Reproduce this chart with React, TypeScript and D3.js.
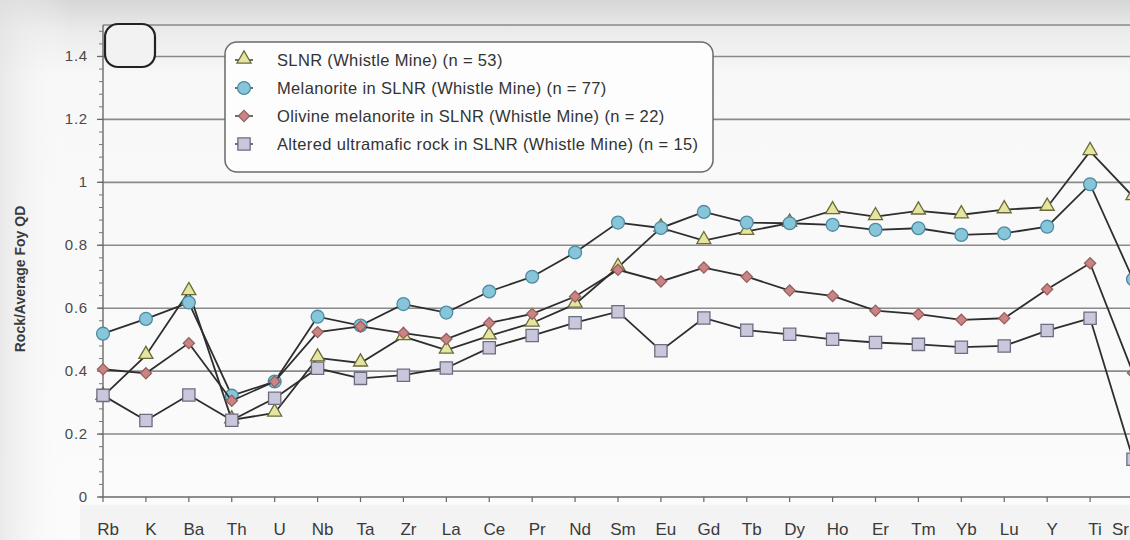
import React from "react";
import * as d3 from "d3";

const elements = ["Rb", "K", "Ba", "Th", "U", "Nb", "Ta", "Zr", "La", "Ce", "Pr", "Nd", "Sm", "Eu", "Gd", "Tb", "Dy", "Ho", "Er", "Tm", "Yb", "Lu", "Y", "Ti", "Sr"];

const slnr = [0.32, 0.45, 0.653, 0.245, 0.267, 0.442, 0.426, 0.51, 0.467, 0.512, 0.553, 0.613, 0.73, 0.855, 0.815, 0.844, 0.87, 0.91, 0.891, 0.909, 0.897, 0.913, 0.921, 1.098, 0.955];
const melanorite = [0.519, 0.566, 0.618, 0.322, 0.367, 0.573, 0.545, 0.613, 0.586, 0.653, 0.70, 0.777, 0.872, 0.855, 0.906, 0.872, 0.87, 0.865, 0.849, 0.854, 0.833, 0.838, 0.859, 0.994, 0.692];
const olivineMelanorite = [0.406, 0.393, 0.489, 0.306, 0.367, 0.524, 0.542, 0.521, 0.502, 0.553, 0.582, 0.637, 0.722, 0.685, 0.729, 0.70, 0.656, 0.639, 0.592, 0.581, 0.563, 0.568, 0.66, 0.743, 0.394];
const alteredUltramafic = [0.323, 0.243, 0.324, 0.244, 0.314, 0.409, 0.377, 0.387, 0.41, 0.474, 0.513, 0.554, 0.589, 0.465, 0.569, 0.53, 0.517, 0.501, 0.491, 0.485, 0.476, 0.48, 0.529, 0.568, 0.12];

const seriesNames = [
  "SLNR (Whistle Mine) (n = 53)",
  "Melanorite in SLNR (Whistle Mine) (n = 77)",
  "Olivine melanorite in SLNR (Whistle Mine) (n = 22)",
  "Altered ultramafic rock in SLNR (Whistle Mine) (n = 15)",
];

const yTicks = [0, 0.2, 0.4, 0.6, 0.8, 1, 1.2, 1.4];
const yTickLabels = ["0", "0.2", "0.4", "0.6", "0.8", "1", "1.2", "1.4"];

type Marker = { shape: "triangle" | "circle" | "diamond" | "square"; fill: string; stroke: string };

const markers: Marker[] = [
  { shape: "triangle", fill: "#e4e6a0", stroke: "#6c6a3a" },
  { shape: "circle", fill: "#86c6d8", stroke: "#4d8aa3" },
  { shape: "diamond", fill: "#c98483", stroke: "#95605f" },
  { shape: "square", fill: "#c9c7dc", stroke: "#6e6c80" },
];

const allSeries = [slnr, melanorite, olivineMelanorite, alteredUltramafic];

const W = 1130;
const H = 540;

const x = d3.scalePoint<string>().domain(elements).range([103, 1133]);
const y = d3.scaleLinear().domain([0, 1.5]).range([497, 25]);

const symbolPath = (shape: Marker["shape"]): string => {
  switch (shape) {
    case "triangle":
      return d3.symbol().type(d3.symbolTriangle).size(85)() as string;
    case "circle":
      return d3.symbol().type(d3.symbolCircle).size(130)() as string;
    case "diamond":
      return d3.symbol().type(d3.symbolSquare).size(62)() as string;
    default:
      return d3.symbol().type(d3.symbolSquare).size(150)() as string;
  }
};

function MarkerGlyph({ m, cx, cy }: { m: Marker; cx: number; cy: number }) {
  const rot = m.shape === "diamond" ? " rotate(45)" : "";
  const dy = m.shape === "triangle" ? -1 : 0;
  return (
    <path
      d={symbolPath(m.shape)}
      transform={`translate(${cx},${cy + dy})${rot}`}
      fill={m.fill}
      stroke={m.stroke}
      strokeWidth={1.3}
    />
  );
}

export default function App() {
  const line = d3
    .line<number>()
    .x((_, i) => x(elements[i]) as number)
    .y((d) => y(d));

  const minorTicks = d3.range(0, 1.5001, 0.04).filter((v) => v <= 1.5);
  const last = elements.length - 1;

  return (
    <svg
      width={W}
      height={H}
      viewBox={`0 0 ${W} ${H}`}
      style={{ position: "absolute", left: 0, top: 0, fontFamily: "Arial, 'Liberation Sans', sans-serif" }}
    >
      <defs>
        <linearGradient id="paperTop" x1="0" y1="0" x2="0" y2="1">
          <stop offset="0" stopColor="#d6d6d6" />
          <stop offset="0.06" stopColor="#ececec" />
          <stop offset="0.14" stopColor="#f8f8f8" />
          <stop offset="1" stopColor="#fbfbfb" />
        </linearGradient>
        <linearGradient id="paperLeft" x1="0" y1="0" x2="1" y2="0">
          <stop offset="0" stopColor="#e2e2e2" stopOpacity="0.7" />
          <stop offset="1" stopColor="#ffffff" stopOpacity="0" />
        </linearGradient>
        <clipPath id="plotClip">
          <rect x={0} y={0} width={W} height={H} />
        </clipPath>
      </defs>

      <rect x={0} y={0} width={W} height={H} fill="url(#paperTop)" />
      <rect x={0} y={0} width={70} height={H} fill="url(#paperLeft)" />
      <rect x={80} y={505} width={W - 80} height={35} fill="#eeeeee" opacity={0.6} />

      {/* horizontal gridlines, including the frame line at the top */}
      {[...yTicks.slice(1), 1.5].map((v) => (
        <line key={`g${v}`} x1={103} x2={W} y1={y(v)} y2={y(v)} stroke="#8a8a8a" strokeWidth={1.6} />
      ))}

      {/* y axis with major and minor ticks */}
      <line x1={103} x2={103} y1={y(1.5)} y2={y(0)} stroke="#6a6a6a" strokeWidth={1.4} />
      {minorTicks.map((v) => (
        <line key={`m${v}`} x1={99} x2={103} y1={y(v)} y2={y(v)} stroke="#777" strokeWidth={1} />
      ))}
      {yTicks.map((v) => (
        <line key={`t${v}`} x1={97} x2={103} y1={y(v)} y2={y(v)} stroke="#666" strokeWidth={1.3} />
      ))}
      {yTicks.map((v, i) => (
        <text key={`l${v}`} x={88} y={y(v) + 5} textAnchor="end" fontSize={15} letterSpacing={0.8} fill="#4a4a4a">
          {yTickLabels[i]}
        </text>
      ))}

      {/* x axis */}
      <line x1={103} x2={W} y1={y(0)} y2={y(0)} stroke="#6a6a6a" strokeWidth={1.6} />
      {elements.map((e) => (
        <line key={`xt${e}`} x1={x(e)} x2={x(e)} y1={y(0)} y2={y(0) + 5} stroke="#666" strokeWidth={1.2} />
      ))}
      {elements.map((e, i) =>
        i === last ? (
          <text key={`xl${e}`} x={W - 1} y={535} textAnchor="end" fontSize={17} fill="#3a3a3a">
            {e}
          </text>
        ) : (
          <text key={`xl${e}`} x={(x(e) as number) + 5} y={535} textAnchor="middle" fontSize={17} fill="#3a3a3a">
            {e}
          </text>
        )
      )}

      <text
        transform={`translate(25,279) rotate(-90)`}
        textAnchor="middle"
        fontSize={14}
        fontWeight="bold"
        fill="#3a3a3a"
      >
        Rock/Average Foy QD
      </text>

      {/* rounded annotation box at the top of the y axis */}
      <rect x={105} y={24} width={50} height={43} rx={13} ry={13} fill="#f2f2f2" stroke="#222" strokeWidth={2.2} />

      {/* series */}
      <g clipPath="url(#plotClip)">
        {allSeries.map((s, si) => (
          <g key={`s${si}`}>
            <path d={line(s) as string} fill="none" stroke="#2e2e2e" strokeWidth={1.8} />
            {s.map((v, i) => (
              <MarkerGlyph key={i} m={markers[si]} cx={x(elements[i]) as number} cy={y(v)} />
            ))}
          </g>
        ))}
      </g>

      {/* legend */}
      <rect x={225} y={42} width={488} height={130} rx={12} ry={12} fill="#fdfdfd" stroke="#6a6a6a" strokeWidth={1.5} />
      {seriesNames.map((name, i) => {
        const cy = 60 + i * 28;
        return (
          <g key={`lg${i}`}>
            <line x1={235} x2={253} y1={cy} y2={cy} stroke="#3a3a3a" strokeWidth={1.5} />
            <MarkerGlyph m={markers[i]} cx={244} cy={cy} />
            <text x={277} y={cy + 6} fontSize={16.5} letterSpacing={0.35} fill="#333">
              {name}
            </text>
          </g>
        );
      })}
    </svg>
  );
}
